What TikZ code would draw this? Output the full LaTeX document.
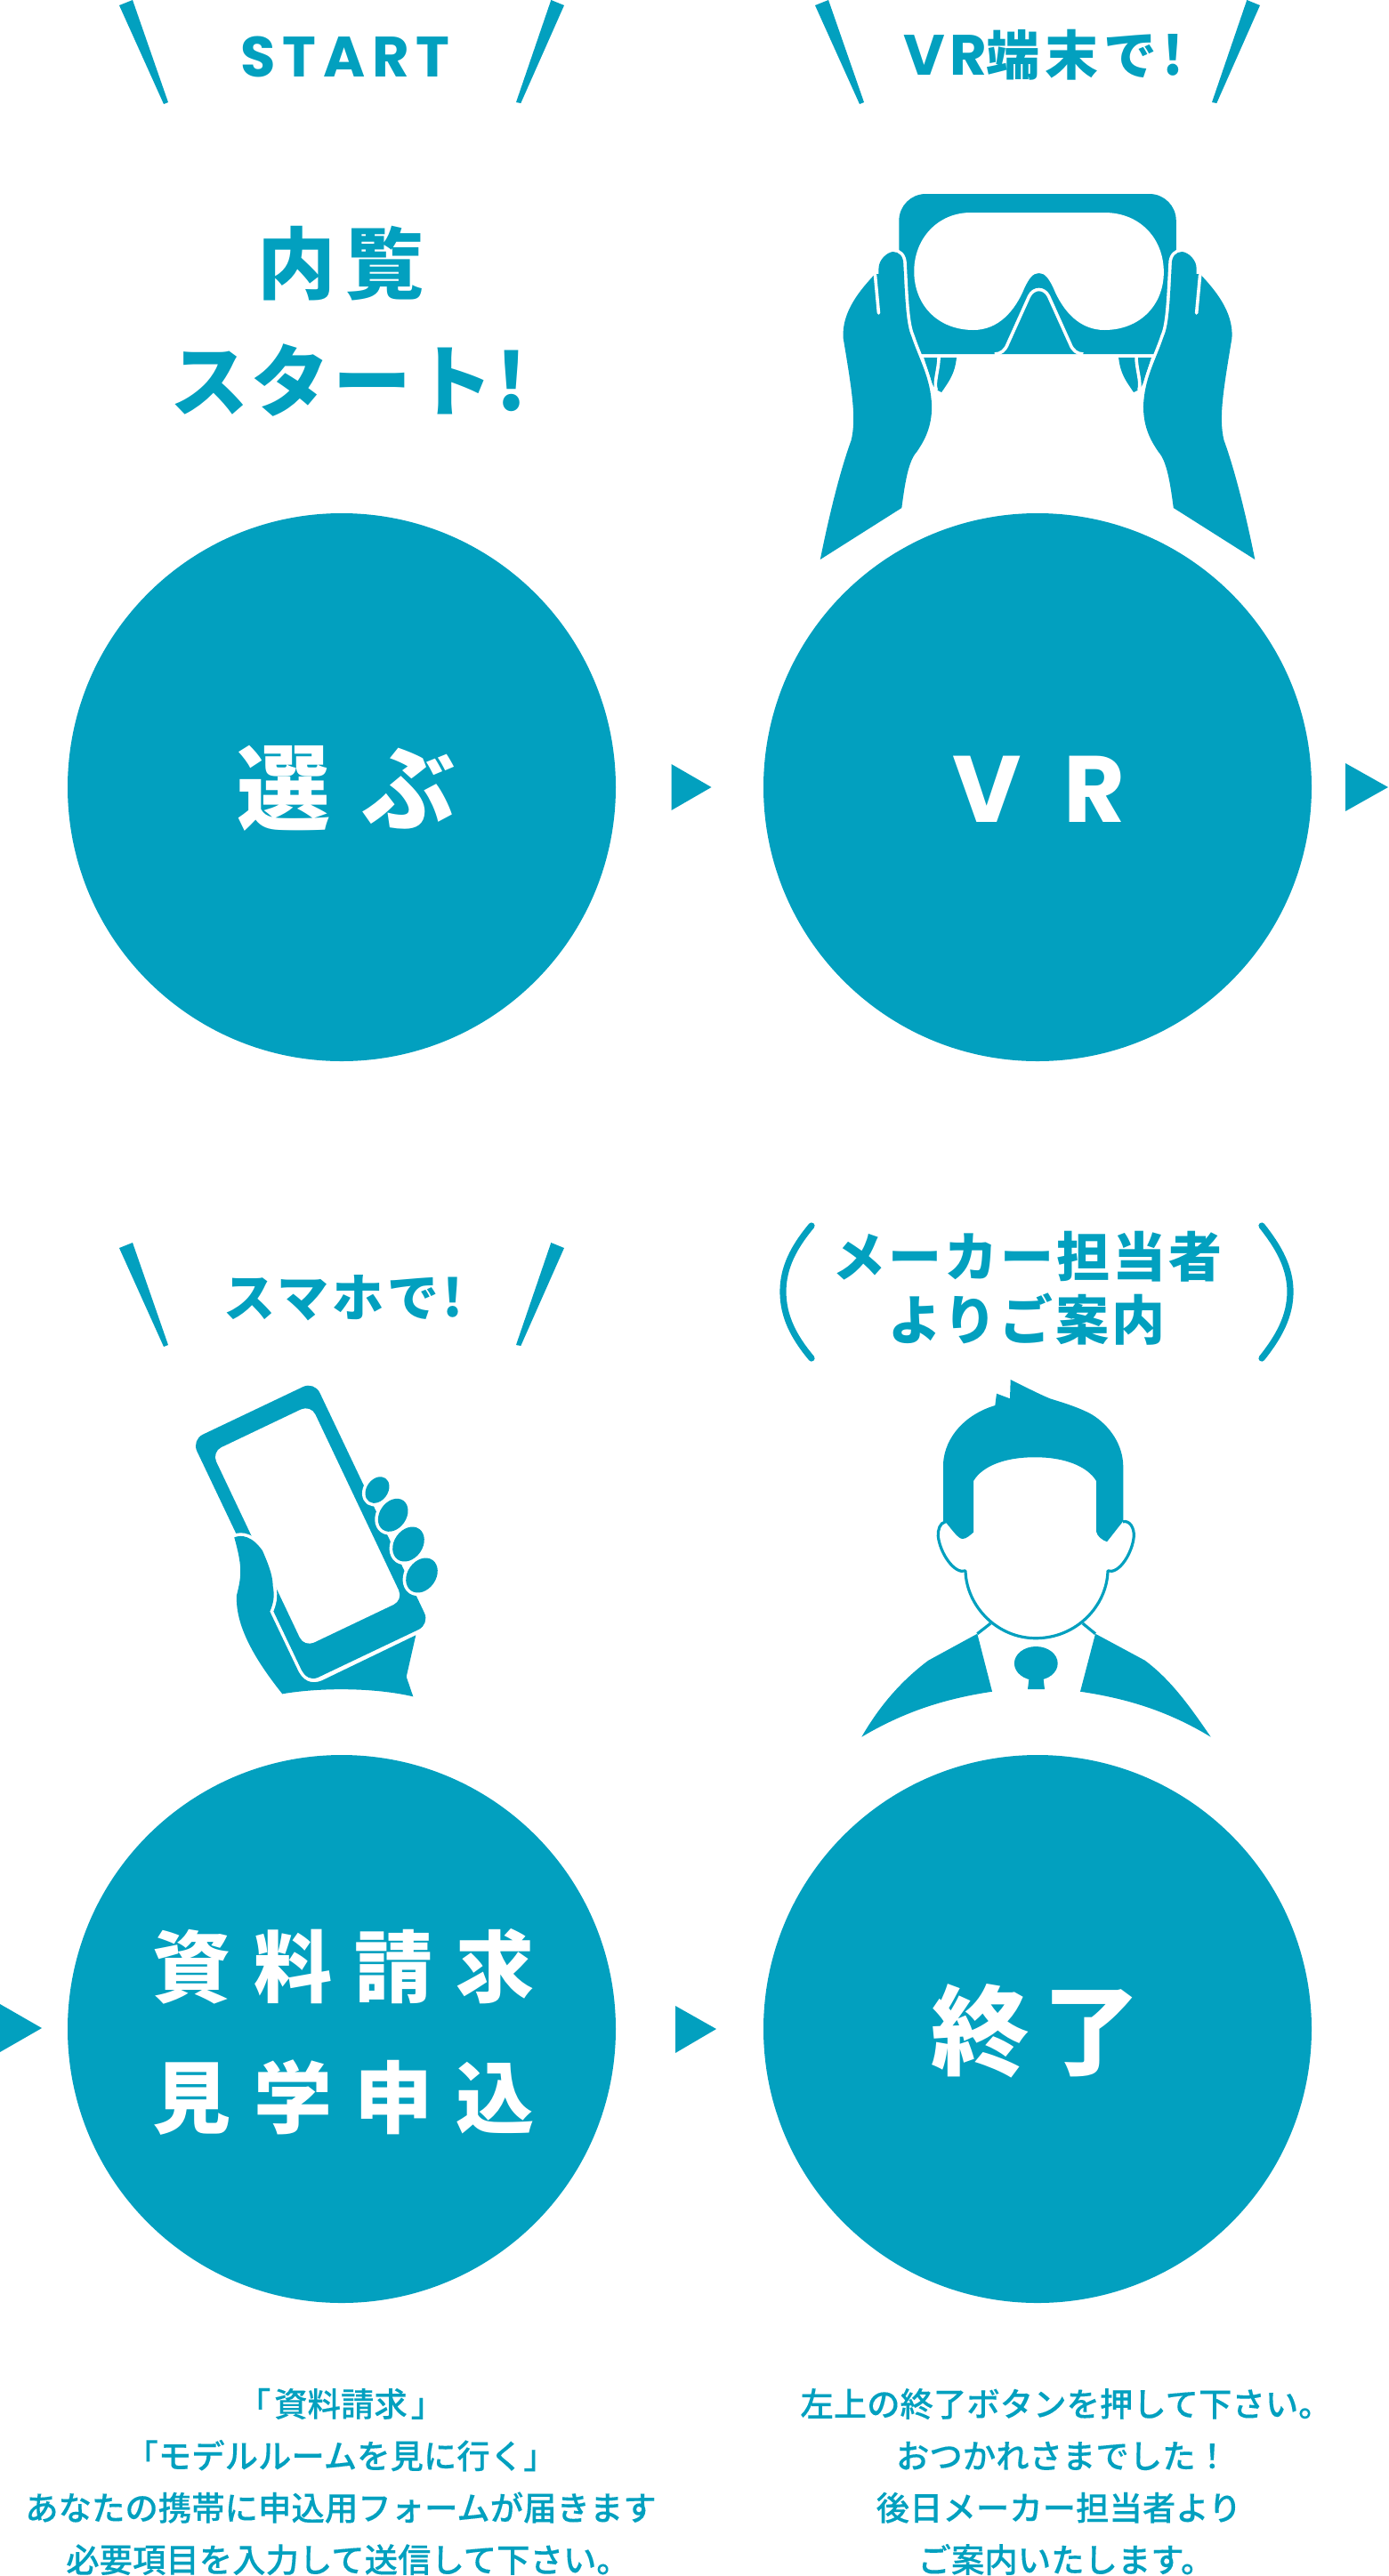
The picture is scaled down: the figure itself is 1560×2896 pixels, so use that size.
\documentclass[tikz,border=0pt]{standalone}
\usepackage{fontspec}
\setmainfont{Liberation Sans}
\newfontfamily\jph{Noto Sans CJK JP Black}
\newfontfamily\jpt[FakeBold=0.15]{Noto Sans CJK JP Medium}
\newfontfamily\pop{Poppins Bold}
\definecolor{teal}{HTML}{02A0BF}
\newcommand{\hd}[2]{\fontsize{#1}{#1}\selectfont\jph\addfontfeature{LetterSpace=#2}}
\newcommand{\lat}[2]{\fontsize{#1}{#1}\selectfont\pop\addfontfeature{LetterSpace=#2}}
\tikzset{
  disc/.style={circle,fill=teal,draw=none,minimum size=308pt,inner sep=0pt},
  disctext/.style={inner sep=0pt,text=white,align=center},
  head/.style={inner sep=0pt,text=teal,align=center},
  note/.style={inner sep=0pt,text=teal,align=center,font=\fontsize{18.7}{29.2}\selectfont\jpt},
  ink/.style={fill=teal,draw=none},
  gapped/.style={fill=teal,preaction={draw=white,line width=3.6pt,line join=round}},
  cut/.style={draw=white,line width=1.8pt,line cap=round},
  trace/.style={draw=teal,line width=1.6pt,line join=round},
  paren/.style={draw=teal,line width=3.6pt,line cap=round}
}
\newcommand{\ticks}[2]{%
  \begin{scope}[shift={(#1,#2)}]
    \fill[ink] (134,6)--(149,0)--(189,115)--(184,117)--cycle;
    \fill[ink] (619.3,0)--(634,6)--(585.3,116)--(580,115)--cycle;
  \end{scope}}
\newcommand{\vrhand}{%
  \fill[ink] (1039,402)--(1076,402) .. controls (1074,420) and (1068,428) .. (1059,441) .. controls (1054,439) and (1050,436) .. (1048,430)--cycle;
  \draw[cut] (1056,401) .. controls (1056,415) and (1050,430) .. (1053,438);
  \fill[gapped] (922,629) .. controls (934,570) and (946,525) .. (957,495)
    .. controls (963,470) and (958,440) .. (948,380)
    .. controls (946,350) and (968,325) .. (984,308)
    -- (988,308) -- (988,302)
    .. controls (988,292) and (997,284) .. (1004,283)
    .. controls (1011,283) and (1016,288) .. (1016,297)
    .. controls (1018,335) and (1019,365) .. (1025,378)
    .. controls (1034,405) and (1047,425) .. (1048,457)
    .. controls (1048,480) and (1040,495) .. (1031,508)
    .. controls (1022,518) and (1018,540) .. (1014,571)
    -- cycle;
  \draw[cut] (984,309)--(988,352);
}
\begin{document}
\begin{tikzpicture}[x=0.5pt,y=-0.5pt]
\useasboundingbox (0,0) rectangle (1560,2896);
% discs
\node[disc] (c1) at (384,885) {};
\node[disc] (c2) at (1166,885) {};
\node[disc] (c3) at (384,2281) {};
\node[disc] (c4) at (1166,2281) {};
\node[disctext] (l1) at (389,886) {\hd{52.5}{33}選ぶ};
\node[disctext] (l2) at (1168,887) {\lat{53}{45}VR};
\node[disctext] (l3a) at (386,2211) {\hd{44}{29}資料請求};
\node[disctext] (l3b) at (386,2358) {\hd{44}{29}見学申込};
\node[disctext] (l4) at (1164,2283) {\hd{55}{14}終了};
% arrows
\fill[ink] (754.5,859)--(799.5,885)--(754.5,911)--cycle;
\fill[ink] (1512,858)--(1560,885)--(1512,912)--cycle;
\fill[ink] (0,2253)--(47,2280)--(0,2307)--cycle;
\fill[ink] (759,2255)--(805,2281)--(759,2308)--cycle;
% tick marks
\ticks{0}{0}
\ticks{782}{0}
\ticks{0}{1397}
% headings
\node[head] (h1) at (388,64) {\lat{32}{12}START};
\node[head] (h2) at (1173,62) {\lat{32}{8}VR\hd{30}{10}端末で!};
\node[head] (h3) at (386,1459) {\hd{29}{7}スマホで!};
\node[head] (h4a) at (1154,1413) {\hd{30}{5}メーカー担当者};
\node[head] (h4b) at (1154,1483) {\hd{30}{5}よりご案内};
\node[head] (t1a) at (383,296) {\hd{44}{13}内覧};
\node[head] (t1b) at (392,428) {\hd{44}{4}スタート!};
% parens
\draw[paren] (912,1378) .. controls (892,1402) and (880,1425) .. (880,1452) .. controls (880,1480) and (892,1503) .. (912,1527);
\draw[paren] (1418,1378) .. controls (1437,1402) and (1450,1425) .. (1450,1452) .. controls (1450,1480) and (1437,1503) .. (1418,1527);
% notes
\node[note] (n1) at (383,2790) {「\hspace{2pt}資料請求\hspace{2pt}」\\「モデルルームを見に行く」\\あなたの携帯に申込用フォームが届きます\\\hspace*{8pt}必要項目を入力して送信して下さい。};
\node[note] (n2) at (1190,2790) {\hspace*{8pt}左上の終了ボタンを押して下さい。\\\hspace*{4pt}おつかれさまでした！\\後日メーカー担当者より\\\hspace*{8pt}ご案内いたします。};
% VR goggles and hands
\begin{scope}[xshift=2.2pt,xscale=0.995]
\fill[ink] (1011,398) [rounded corners=15pt] -- (1011,218) -- (1324,218) [sharp corners] -- (1324,398) -- cycle;
\fill[white] (1092,239) -- (1243,239)
  .. controls (1283,239) and (1310,268) .. (1310,306)
  .. controls (1310,343) and (1283,371) .. (1243,371)
  .. controls (1215,371) and (1196,350) .. (1185,323)
  .. controls (1180,313) and (1176,307) .. (1169,307)
  .. controls (1162,307) and (1158,313) .. (1153,323)
  .. controls (1142,350) and (1123,371) .. (1095,371)
  .. controls (1055,371) and (1028,343) .. (1028,305)
  .. controls (1028,268) and (1055,239) .. (1092,239) -- cycle;
\draw[draw=white,line width=1.8pt,line join=round] (1119,398) .. controls (1126,398) and (1131,394) .. (1134,386) -- (1158,333)
  .. controls (1163,323) and (1175,323) .. (1180,333) -- (1204,386)
  .. controls (1207,394) and (1212,398) .. (1219,398);
\vrhand
\begin{scope}[xshift=1167.5pt,xscale=-1]\vrhand\end{scope}
\end{scope}
% phone
\fill[ink,rounded corners=7pt] (215.3,1618.7)--(353.3,1553)--(483,1826)--(345,1891.7)--cycle;
\fill[white,rounded corners=6pt] (238,1632.3)--(349.2,1579.3)--(453.2,1798.7)--(342,1851.7)--cycle;
\fill[gapped] (263.3,1728.3) .. controls (271.7,1725) and (283.3,1726.7) .. (295,1743.3)
  .. controls (300,1755) and (306.7,1770) .. (306.7,1783.3)
  .. controls (309,1795) and (307,1803) .. (303.3,1811.7)
  -- (334,1876) .. controls (340,1890) and (350,1894) .. (361.7,1889.3)
  -- (467.3,1838.3) -- (456.7,1885) -- (464.3,1907.3)
  .. controls (420,1897) and (360,1897) .. (317.3,1904.3)
  .. controls (290,1870) and (264,1830) .. (266,1793.3)
  .. controls (272,1770) and (272,1760) .. (263.3,1728.3) -- cycle;
\fill[gapped] (424,1675) ellipse [x radius=8pt,y radius=6pt,rotate=55];
\fill[gapped] (441.7,1703.3) ellipse [x radius=10pt,y radius=7.5pt,rotate=55];
\fill[gapped] (459,1736) ellipse [x radius=10.5pt,y radius=8pt,rotate=55];
\fill[gapped] (474,1771) ellipse [x radius=10.5pt,y radius=8pt,rotate=55];
% person
\fill[ink] (1060,1710) -- (1060,1645) .. controls (1062,1615) and (1085,1590) .. (1118.3,1580)
  -- (1120,1566.7) -- (1135,1572.3) -- (1135.7,1551)
  .. controls (1150,1558) and (1165,1566) .. (1180,1572.3)
  .. controls (1195,1577) and (1212,1582) .. (1226.7,1590)
  .. controls (1248,1603) and (1262,1625) .. (1262.3,1648.3)
  -- (1262.3,1710) -- (1244,1733.3) .. controls (1238,1731) and (1233,1727) .. (1232,1721.7)
  -- (1232,1665) .. controls (1222,1648) and (1195,1638) .. (1163.3,1638.3)
  .. controls (1130,1638) and (1104,1648) .. (1094,1665)
  -- (1094,1722.7) .. controls (1090,1726) and (1086,1730) .. (1081.7,1730)
  .. controls (1077,1730) and (1070,1720) .. (1064,1712.7) -- cycle;
\draw[trace] (1062.7,1710.7) .. controls (1056,1712) and (1054,1720) .. (1054.3,1726.7)
  .. controls (1056,1745) and (1072,1770) .. (1085,1766)
  .. controls (1086,1805) and (1120,1841.7) .. (1164,1841.7)
  .. controls (1210,1841.7) and (1244,1805) .. (1245,1766)
  .. controls (1258,1770) and (1273,1745) .. (1274.3,1726.7)
  .. controls (1274.6,1718) and (1270,1709) .. (1262,1710.7);
\draw[trace] (1113.3,1825)--(1098.3,1836.7);
\draw[trace] (1216.7,1825)--(1231,1836.7);
\fill[ink] (1098.3,1836.7)--(1115,1901.7) .. controls (1060,1910) and (1015,1925) .. (968.3,1952.7)
  .. controls (990,1915) and (1015,1888) .. (1043.3,1866.7) -- cycle;
\fill[ink] (1231,1836.7)--(1214,1901.7) .. controls (1270,1910) and (1315,1925) .. (1360.7,1952.7)
  .. controls (1335,1915) and (1315,1888) .. (1286.7,1866.7) -- cycle;
\fill[ink] (1164.3,1870) ellipse [x radius=12.2pt,y radius=9.5pt];
\fill[ink] (1156.7,1885)--(1172.3,1885)--(1174,1899)--(1155,1899)--cycle;
\end{tikzpicture}
\end{document}
